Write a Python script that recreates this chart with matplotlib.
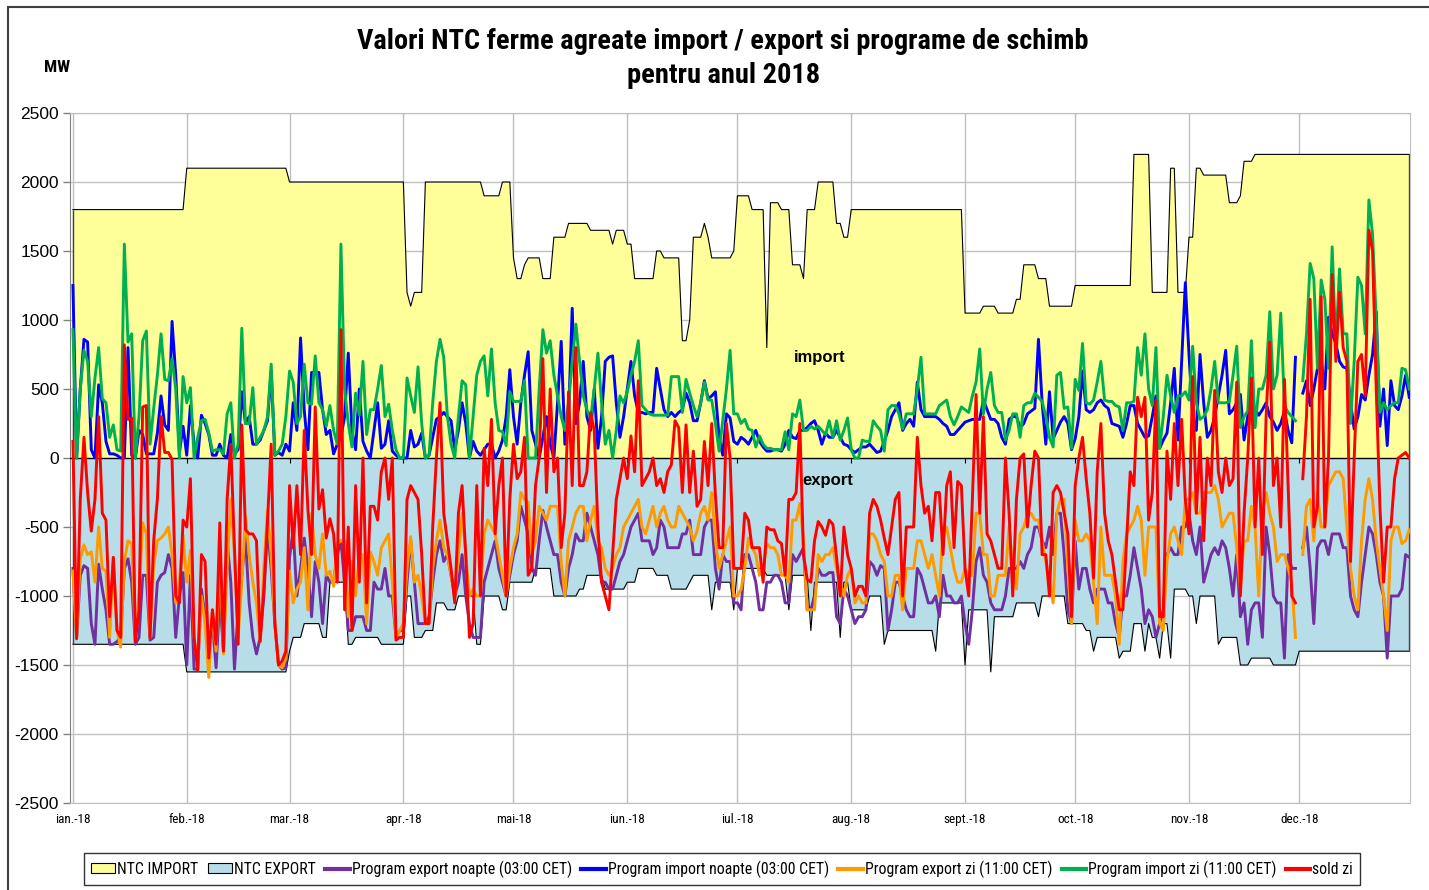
import numpy as np
import matplotlib
matplotlib.use("Agg")
import matplotlib.pyplot as plt
from matplotlib import font_manager
from matplotlib.font_manager import FontProperties
from matplotlib.patches import Patch, Rectangle
from matplotlib.lines import Line2D

nan = float("nan")

month_labels = ["ian.-18", "feb.-18", "mar.-18", "apr.-18", "mai-18", "iun.-18",
                "iul.-18", "aug.-18", "sept.-18", "oct.-18", "nov.-18", "dec.-18"]
month_days = [31, 28, 31, 30, 31, 30, 31, 31, 30, 31, 30, 31]

# NTC import / export: step levels (MW) and how many days each level lasts
ntc_import_levels = [1800, 2100, 2000, 1200, 1100, 1200, 2000, 1900, 2000, 1450, 1300, 1400,
                     1450, 1300, 1600, 1700, 1650, 1550, 1650, 1550, 1300, 1500, 1450, 850,
                     1000, 1600, 1700, 1600, 1450, 1500, 1900, 1800, 800, 1850, 1800, 1400,
                     1300, 1800, 2000, 1700, 1600, 1800, 1050, 1100, 1050, 1150, 1400, 1300,
                     1100, 1250, 2200, 1200, 2100, 1200, 1600, 2100, 2050, 1850, 1900, 2150,
                     2200]
ntc_import_runs = [31, 28, 32, 1, 1, 3, 16, 5, 3, 1, 2, 1,
                   4, 3, 4, 6, 6, 1, 3, 2, 6, 2, 5, 2,
                   1, 3, 1, 1, 6, 1, 4, 4, 1, 3, 3, 3,
                   1, 3, 5, 2, 2, 31, 5, 4, 5, 2, 4, 3,
                   7, 16, 5, 5, 2, 3, 2, 2, 7, 3, 1, 3,
                   43]

ntc_export_levels = [-1350, -1550, -1400, -1300, -1200, -1300, -900, -1350, -1300, -1350,
                     -1000, -1300, -1250, -1050, -1100, -1000, -1350, -1000, -1100, -900,
                     -800, -1000, -950, -850, -950, -900, -800, -850, -950, -900,
                     -850, -1100, -900, -1100, -800, -850, -1100, -850, -1250, -900,
                     -1300, -900, -1100, -1000, -1350, -1250, -1400, -1050, -1500, -1100,
                     -1550, -1150, -1050, -1150, -1000, -1000, -1200, -1250, -1400, -1300,
                     -1450, -1400, -1200, -1400, -1200, -1300, -1450, -1200, -1450, -950,
                     -1000, -1200, -1000, -1350, -1300, -1500, -1450, -1500, -1400]
ntc_export_runs = [31, 28, 1, 3, 5, 2, 5, 2, 7, 7,
                   2, 3, 3, 3, 3, 5, 2, 5, 2, 7,
                   5, 7, 2, 5, 6, 3, 5, 4, 5, 1,
                   5, 1, 5, 1, 8, 6, 1, 5, 1, 7,
                   1, 2, 5, 4, 1, 13, 1, 7, 1, 6,
                   1, 6, 6, 1, 5, 2, 5, 2, 1, 6,
                   1, 3, 3, 1, 1, 2, 1, 2, 1, 4,
                   2, 1, 5, 1, 5, 3, 6, 7, 31]

export_night = [
    -800, -1300, -850, -780, -800, -1200, -1350, -770, -950, -1100, -1350, -1350, -1330, -1300, -800, -730,
    -900, -1350, -1300, -850, -850, -1320, -1300, -900, -850, -830, -700, -800, -1300, -1000, -830,
    -1500, -850, -1530, -1530, -950, -1150, -1400, -1200, -1520, -1000, -1400, -600, -900, -1530,
    -1100, -850, -580, -1050, -1300, -1420, -1300, -1000, -500, -800, -1200, -1500, -1530, -1520,
    -720, -520, -1000, -800, -580, -800, -1150, -750, -900, -1200, -850, -900, -900, -700, -600, -900,
    -1250, -1250, -1150, -1150, -1150, -1250, -1250, -900, -950, -950, -800, -1000, -1000, -1300, -1250,
    -1250, -900, -600, -900, -1200, -1200, -1200, -1150, -900, -700, -600, -750, -700, -850, -1000,
    -900, -700, -1000, -1200, -1300, -1300, -1300, -900, -800, -700, -600, -800, -900, -1000, -850,
    -700, -600, -350, -450, -550, -800, -850, -600, -380, -500, -600, -700, -700, -900, -1000, -800,
    -700, -550, -600, -600, -400, -500, -600, -700, -900, -900, -950, -950, -850, -750, -700,
    -600, -500, -450, -400, -600, -600, -600, -700, -650, -450, -500, -650, -650, -650, -650,
    -550, -550, -450, -700, -700, -700, -500, -450, -450, -800, -950, -700, -750, -750, -1050,
    -1050, -1100, -700, -700, -800, -900, -1100, -1100, -900, -900, -850, -850, -900, -1050, -1050, -700,
    -750, -700, -650, -1100, -1100, -1000, -800, -850, -850, -830, -830, -1150, -1200, -950, -1000,
    -1100, -1200, -1150, -1150, -1100, -750, -780, -850, -780, -800, -1250, -1100, -900, -900, -1000, -1100,
    -1150, -1150, -800, -850, -950, -1050, -1050, -1000, -1150, -850, -1000, -1000, -1050, -1050, -1000,
    -1200, -1350, -1100, -750, -650, -850, -900, -1050, -1100, -1100, -1100, -1000, -800, -800, -800,
    -750, -800, -700, -650, -500, -500, -600, -650, -500, -700, -400, -400, -700, -1100, -1200,
    -600, -950, -800, -800, -950, -1050, -950, -950, -950, -1050, -1050, -1200, -1300, -1000, -1000, -850,
    -650, -800, -950, -1200, -1100, -1150, -1300, -1200, -1100, -700, -650, -700, -700, -500, -500,
    -400, -600, -700, -500, -900, -800, -700, -650, -700, -600, -650, -800, -1000, -700, -1150,
    -1050, -1350, -1100, -1050, -1050, -1300, -500, -700, -1000, -1050, -1050, -1450, -700, -800, -800,
    nan, -650, -500, -800, -1200, -650, -600, -600, -700, -550, -550, -550, -650, -650, -1000, -1100,
    -1150, -900, -700, -500, -550, -700, -900, -1000, -1450, -1000, -1000, -1000, -950, -700, -720,
]

import_night = [
    1250, 0, 500, 860, 840, 60, 0, 530, 400, 120, 30, 30, 20, 0, 0, 800,
    20, 0, 200, 170, 30, 30, 30, 180, 450, 240, 200, 990, 600, 40, 230,
    20, 380, 100, 0, 310, 250, 170, 20, 20, 100, 20, 0, 170, 30,
    60, 480, 250, 300, 100, 100, 130, 200, 270, 630, 20, 40, 20, 100,
    50, 400, 200, 870, 350, 60, 620, 620, 620, 350, 170, 200, 30, 100, 150, 300,
    760, 200, 60, 500, 120, 50, 0, 200, 400, 70, 100, 270, 50, 20, 0,
    0, 0, 200, 80, 100, 180, 0, 20, 150, 280, 300, 330, 300, 270, 60,
    200, 400, 250, 0, 120, 50, 20, 60, 100, 100, 0, 50, 130, 300, 640,
    300, 100, 400, 600, 770, 200, 100, 0, 150, 300, 100, 0, 400, 845, 100, 300,
    1085, 250, 400, 700, 300, 200, 500, 70, 300, 700, 730, 740, 400, 150, 300,
    500, 700, 450, 330, 330, 320, 330, 330, 650, 500, 350, 300, 330, 300, 330,
    350, 470, 400, 270, 270, 400, 560, 430, 450, 480, 150, 20, 320, 290, 120,
    100, 150, 130, 100, 150, 200, 120, 80, 50, 50, 60, 60, 50, 100, 200, 150,
    140, 200, 200, 220, 250, 270, 200, 100, 180, 150, 150, 200, 150, 100, 90,
    60, 40, 60, 80, 80, 100, 70, 40, 50, 120, 200, 300, 350, 400, 200, 250,
    280, 230, 550, 350, 300, 300, 300, 300, 280, 250, 230, 170, 170, 200, 230,
    260, 270, 280, 280, 280, 420, 350, 280, 280, 250, 150, 100, 280, 300, 300,
    220, 250, 320, 340, 360, 860, 400, 100, 480, 140, 200, 260, 300, 250, 60,
    140, 300, 630, 350, 330, 350, 400, 420, 380, 360, 250, 240, 230, 150, 250, 380,
    380, 250, 200, 150, 160, 300, 450, 70, 130, 180, 400, 650, 130, 700, 1270,
    750, 300, 200, 750, 400, 150, 200, 300, 450, 600, 780, 320, 350, 400, 460,
    130, 300, 400, 350, 310, 350, 400, 300, 260, 200, 250, 340, 200, 110, 730,
    nan, 470, 560, 380, 500, 650, 700, 500, 1020, 900, 830, 700, 660, 650, 400, 210,
    300, 460, 420, 600, 750, 1060, 230, 500, 90, 560, 380, 350, 450, 600, 440,
]

export_day = [
    -820, -1300, -730, -630, -700, -680, -900, -500, -800, -820, -1300, -720, -1250, -1370, -750, -600,
    -620, -1300, -1000, -470, -550, -1300, -780, -600, -580, -550, -500, -700, -1050, -900, -560,
    -900, -670, -1300, -1500, -1000, -1200, -1590, -1100, -1400, -700, -1420, -800, -300, -700,
    -1300, -900, -420, -700, -900, -1050, -1330, -800, -380, -700, -1200, -1500, -1520, -1450,
    -820, -1050, -950, -900, -650, -1100, -400, -700, -800, -550, -850, -820, -930, -620, -600, -600,
    -1150, -750, -1000, -700, -700, -1200, -680, -750, -850, -650, -600, -550, -900, -1300, -1250,
    -1200, -800, -570, -900, -850, -1000, -1200, -1200, -800, -600, -450, -650, -700, -850, -1000,
    -700, -400, -700, -1000, -950, -1000, -1000, -550, -450, -500, -550, -700, -850, -1000, -800,
    -650, -550, -250, -300, -320, -700, -600, -350, -400, -450, -350, -350, -350, -750, -1000, -600,
    -500, -400, -350, -350, -600, -450, -350, -600, -650, -800, -850, -800, -700, -650, -500,
    -450, -400, -350, -300, -500, -550, -450, -350, -500, -400, -350, -450, -500, -500, -350,
    -400, -450, -500, -600, -530, -400, -350, -450, -250, -600, -800, -700, -600, -500, -1000,
    -1000, -950, -800, -580, -650, -700, -850, -800, -620, -650, -650, -700, -850, -850, -900, -450,
    -450, -330, -600, -1100, -1100, -1100, -700, -750, -700, -700, -650, -800, -900, -1000, -850,
    -800, -1050, -1000, -1050, -1050, -550, -550, -600, -700, -750, -1000, -1000, -850, -850, -1100, -800,
    -800, -800, -600, -600, -700, -800, -700, -850, -1000, -500, -500, -650, -800, -900, -900,
    -800, -850, -850, -400, -400, -700, -700, -1000, -1000, -850, -850, -850, -500, -800, -950,
    -550, -500, -400, -400, -450, -450, -600, -750, -900, -1050, -400, -300, -300, -800, -1200,
    -450, -600, -600, -550, -600, -900, -1200, -500, -850, -850, -850, -1000, -1350, -750, -550, -500,
    -450, -350, -450, -850, -500, -500, -500, -1200, -1250, -750, -550, -500, -600, -700, -300,
    -300, -250, -400, -400, -250, -250, -250, -200, -300, -500, -450, -400, -400, -650, -950,
    -600, -600, -350, -500, -1000, -400, -250, -400, -500, -750, -700, -700, -800, -900, -1300,
    nan, -700, -350, -300, -600, -250, -500, -500, -200, -150, -100, -100, -150, -500, -800, -1000,
    -1100, -600, -300, -150, -300, -600, -800, -1000, -1250, -600, -500, -500, -620, -600, -520,
]

import_day = [
    930, 0, 500, 780, 700, 300, 580, 800, 430, 400, 150, 240, 60, 50, 1550, 840,
    900, 0, 300, 850, 920, 100, 360, 600, 900, 570, 560, 720, 500, 0, 590,
    400, 510, 0, 150, 270, 280, 180, 50, 60, 60, 30, 320, 400, 0,
    100, 940, 250, 250, 510, 100, 150, 200, 300, 680, 20, 50, 100, 300,
    630, 550, 250, 300, 680, 400, 390, 740, 400, 350, 230, 380, 200, 100, 1550, 500,
    250, 80, 470, 310, 700, 170, 350, 350, 500, 670, 300, 390, 200, 60, 0,
    0, 580, 450, 330, 660, 250, 0, 20, 400, 700, 860, 730, 300, 100, 0,
    300, 560, 530, 0, 300, 600, 700, 740, 450, 790, 400, 200, 190, 90, 480,
    410, 410, 410, 560, 0, 0, 0, 500, 930, 760, 850, 600, 450, 300, 200, 400,
    700, 970, 700, 450, 350, 280, 500, 760, 400, 100, 200, 0, 200, 450, 400,
    480, 600, 700, 850, 380, 350, 320, 310, 310, 310, 310, 310, 590, 590, 590,
    330, 570, 470, 380, 300, 400, 550, 420, 420, 250, 50, 270, 500, 780, 320,
    320, 250, 280, 210, 200, 80, 160, 100, 70, 70, 60, 60, 60, 190, 60, 320,
    300, 420, 200, 200, 230, 210, 230, 200, 170, 270, 150, 270, 130, 200, 290,
    60, 0, 0, 130, 120, 120, 270, 230, 200, 50, 350, 380, 380, 320, 210, 320,
    320, 320, 500, 730, 320, 320, 320, 320, 380, 400, 420, 300, 240, 300, 370,
    350, 330, 450, 550, 790, 320, 500, 620, 380, 330, 330, 130, 200, 320, 320,
    150, 380, 400, 400, 470, 440, 410, 300, 150, 80, 600, 620, 360, 370, 70,
    570, 490, 830, 400, 390, 420, 550, 700, 420, 410, 410, 380, 370, 200, 400, 400,
    410, 800, 600, 900, 500, 380, 800, 70, 300, 600, 450, 330, 450, 450, 480,
    420, 810, 400, 280, 300, 350, 500, 700, 400, 400, 400, 410, 600, 810, 220,
    300, 340, 850, 220, 500, 500, 600, 1060, 500, 600, 1050, 380, 330, 300, 270,
    nan, 560, 900, 1410, 1300, 650, 1290, 1150, 650, 1530, 800, 1370, 900, 900, 250, 700,
    1310, 1250, 900, 1870, 1620, 1000, 330, 400, 350, 380, 400, 400, 650, 640, 500,
]

sold_day = [
    120, -1310, -300, 150, -250, -530, -300, 300, -400, -450, -1150, -720, -1250, -1300, 820, 280,
    290, -1330, -1100, 370, 380, -1300, -600, -300, 300, 40, 40, -10, -1000, -1050, -450,
    -500, -150, -1300, -1540, -700, -750, -1450, -1100, -1350, -470, -1400, -300, 100, -650,
    -1350, 240, -520, -550, -550, -600, -1330, -950, -460, 100, -1200, -1500, -1470, -1400,
    -200, -650, -200, -700, 200, -370, -700, 370, -370, -230, -580, -440, -550, -900, 930, -1100,
    -500, -1250, -200, -900, 0, -1050, -350, -350, -450, -100, 0, -300, 0, -1320, -1300,
    -1300, -300, -200, -250, -300, -700, -1200, -1200, -500, 0, 400, -400, -600, -800, -1050,
    -400, -200, -700, -1300, -1200, -200, -1000, 70, -200, 280, -550, -200, 0, -1000, -300,
    100, -150, -100, 150, -850, -800, -200, 0, 720, -250, 500, -100, 0, -650, -400, 480,
    -200, 800, -200, -200, -100, 330, 200, -500, -900, -1000, -1100, -700, -300, -150, 0,
    -150, 160, -100, 560, -200, -150, -100, 0, -200, -150, -250, -100, -50, 270, 220,
    -250, 240, -250, 50, -350, -300, 120, -200, 250, -270, -650, -650, 250, 0, -800,
    -800, -800, -400, -450, -650, -650, -650, -900, -500, -520, -520, -600, -620, -850, -300, -300,
    -250, 250, -700, -880, -900, -600, -460, -500, -560, -450, -480, -720, -1000, -500, -700,
    -800, -1000, -930, -930, -1000, -400, -300, -350, -450, -580, -700, -500, -300, -250, -1000, -500,
    -500, -500, 150, -200, -400, -350, -600, -250, -250, -700, -200, -100, -650, -170, -200,
    -800, -1000, -300, 460, -400, 300, -550, -600, -700, -800, -800, 0, -400, -1000, -300,
    0, 30, -500, -200, 50, 0, -700, -700, -1000, -250, -200, -250, -400, -550, -1150,
    -200, 0, 150, -150, -400, -870, -100, 250, -400, -600, -700, -900, -1100, -1100, -600, -100,
    -200, 440, 300, 440, -450, -250, 420, -1150, -1150, 50, -300, 250, -200, 280, -300,
    -550, 590, -400, 150, -600, 0, -200, 490, -100, -250, 0, -200, -150, 550, -1000,
    -400, 0, 580, -500, 0, -700, 300, 840, -200, 0, -500, 570, -200, -1000, -1050,
    nan, -150, 300, 1150, -500, -350, 1170, -500, 0, 1330, 700, 1200, 800, 700, -750, 0,
    700, 750, 450, 1650, 1500, 500, -350, -900, -500, -500, -150, 0, 20, 40, 0,
]


def narrow_font(bold):
    # look for an installed narrow / condensed sans face
    best = None
    for f in font_manager.fontManager.ttflist:
        cond = "Narrow" in f.name or "Condensed" in f.name or str(f.stretch) in ("condensed", "semi-condensed")
        if not cond or f.style != "normal":
            continue
        w = f.weight if isinstance(f.weight, (int, float)) else {"bold": 700, "heavy": 800, "black": 900,
                                                               "semibold": 600, "demibold": 600}.get(f.weight, 400)
        if (w >= 600) != bold or w > 750 or (not bold and w < 350):
            continue
        rank = 0 if "Liberation" in f.name else (1 if "Roboto" in f.name else (2 if "DejaVu" in f.name else 3))
        if best is None or rank < best[0]:
            best = (rank, f.fname)
    if best is None:
        return FontProperties(family="Liberation Sans", weight="bold" if bold else "normal")
    return FontProperties(fname=best[1])


plt.rcParams["font.family"] = ["Liberation Sans", "DejaVu Sans"]
plt.rcParams["axes.unicode_minus"] = False
nar = narrow_font(False)
nar_bold = narrow_font(True)

days = np.arange(sum(month_days))
month_starts = np.cumsum([0] + month_days[:-1])
ntc_import = np.repeat(ntc_import_levels, ntc_import_runs)
ntc_export = np.repeat(ntc_export_levels, ntc_export_runs)

fig = plt.figure(figsize=(14.29, 8.90), dpi=100)
fig.patches.append(Rectangle((8 / 1429, -0.05), 1.2, 1.05 - 7 / 890, transform=fig.transFigure,
                             fill=False, edgecolor="#404040", linewidth=1.5))

ax = fig.add_axes([70 / 1429, 1 - 803 / 890, 1340 / 1429, 690 / 890])
ax.set_axisbelow(True)
ax.grid(True, color="#BFBFBF", linewidth=1.0)

ax.fill_between(days, 0, ntc_import, color="#FFFF99", linewidth=0, zorder=1)
ax.fill_between(days, 0, ntc_export, color="#B7DDE8", linewidth=0, zorder=1)
ax.plot(days, ntc_import, color="black", linewidth=0.8, zorder=2)
ax.plot(days, ntc_export, color="black", linewidth=0.8, zorder=2)
ax.vlines([days[0], days[-1]], [ntc_export[0], ntc_export[-1]], [ntc_import[0], ntc_import[-1]],
          color="#404040", linewidth=1.0, zorder=2)
ax.axhline(0, color="black", linewidth=1.0, zorder=3)
ax.vlines(month_starts, -35, 0, color="black", linewidth=0.8, zorder=3)

lw = 2.1
ax.plot(days, export_night, color="#7030A0", linewidth=lw, zorder=4)
ax.plot(days, import_night, color="#0000FF", linewidth=lw, zorder=5)
ax.plot(days, export_day, color="#FF9900", linewidth=lw, zorder=6)
ax.plot(days, import_day, color="#00B050", linewidth=lw, zorder=7)
ax.plot(days, sold_day, color="#FF0000", linewidth=lw, zorder=8)

ax.text(203.5, 730, "import", ha="center", va="center", fontsize=12, fontweight="bold", zorder=9)
ax.text(205.7, -165, "export", ha="center", va="center", fontsize=12, fontweight="bold", zorder=9)

ax.set_xlim(-0.8, 364.2)
ax.set_ylim(-2500, 2500)
ax.set_yticks(np.arange(-2500, 2501, 500))
ax.set_xticks(month_starts)
ax.set_xticklabels(month_labels, fontproperties=nar)
for t in ax.get_xticklabels():
    t.set_fontsize(9.5)
ax.tick_params(axis="x", length=0, pad=7)
ax.tick_params(axis="y", length=5, width=1, color="#808080", labelsize=12.5, pad=3)
for side in ["top", "right", "bottom"]:
    ax.spines[side].set_color("#BFBFBF")
ax.spines["left"].set_color("#808080")

title = fig.text(0.506, 0.934, "Valori NTC ferme agreate import / export si programe de schimb\npentru anul 2018",
                 ha="center", va="center", fontproperties=nar_bold, linespacing=1.35)
title.set_fontsize(21)
mw = fig.text(57 / 1429, 1 - 68 / 890, "MW", ha="center", va="center", fontproperties=nar_bold)
mw.set_fontsize(12.5)

handles = [
    Patch(facecolor="#FFFF99", edgecolor="black", linewidth=0.8, label="NTC IMPORT"),
    Patch(facecolor="#B7DDE8", edgecolor="black", linewidth=0.8, label="NTC EXPORT"),
    Line2D([], [], color="#7030A0", linewidth=3, label="Program export noapte (03:00 CET)"),
    Line2D([], [], color="#0000FF", linewidth=3, label="Program import noapte (03:00 CET)"),
    Line2D([], [], color="#FF9900", linewidth=3, label="Program export zi (11:00 CET)"),
    Line2D([], [], color="#00B050", linewidth=3, label="Program import zi (11:00 CET)"),
    Line2D([], [], color="#FF0000", linewidth=3, label="sold zi"),
]


def make_legend(size):
    prop = nar.copy()
    prop.set_size(size)
    lg = fig.legend(handles=handles, loc="center", bbox_to_anchor=(722 / 1429, 1 - 869 / 890), ncol=7,
                    frameon=True, fancybox=False, edgecolor="black", handlelength=1.55, handleheight=0.55,
                    handletextpad=0.12, columnspacing=0.6, borderpad=0.45, borderaxespad=0, prop=prop)
    lg.get_frame().set_linewidth(1.0)
    return lg


# size the title and legend so their widths match the reference layout
fig.canvas.draw()
renderer = fig.canvas.get_renderer()
w = title.get_window_extent(renderer).width
title.set_fontsize(min(22, 21 * 730 / w))

leg = make_legend(12.5)
fig.canvas.draw()
w = leg.get_window_extent(renderer).width
if abs(w - 1279) > 8:
    leg.remove()
    leg = make_legend(12.5 * 1279 / w)

fig.savefig("out.png", dpi=100)
